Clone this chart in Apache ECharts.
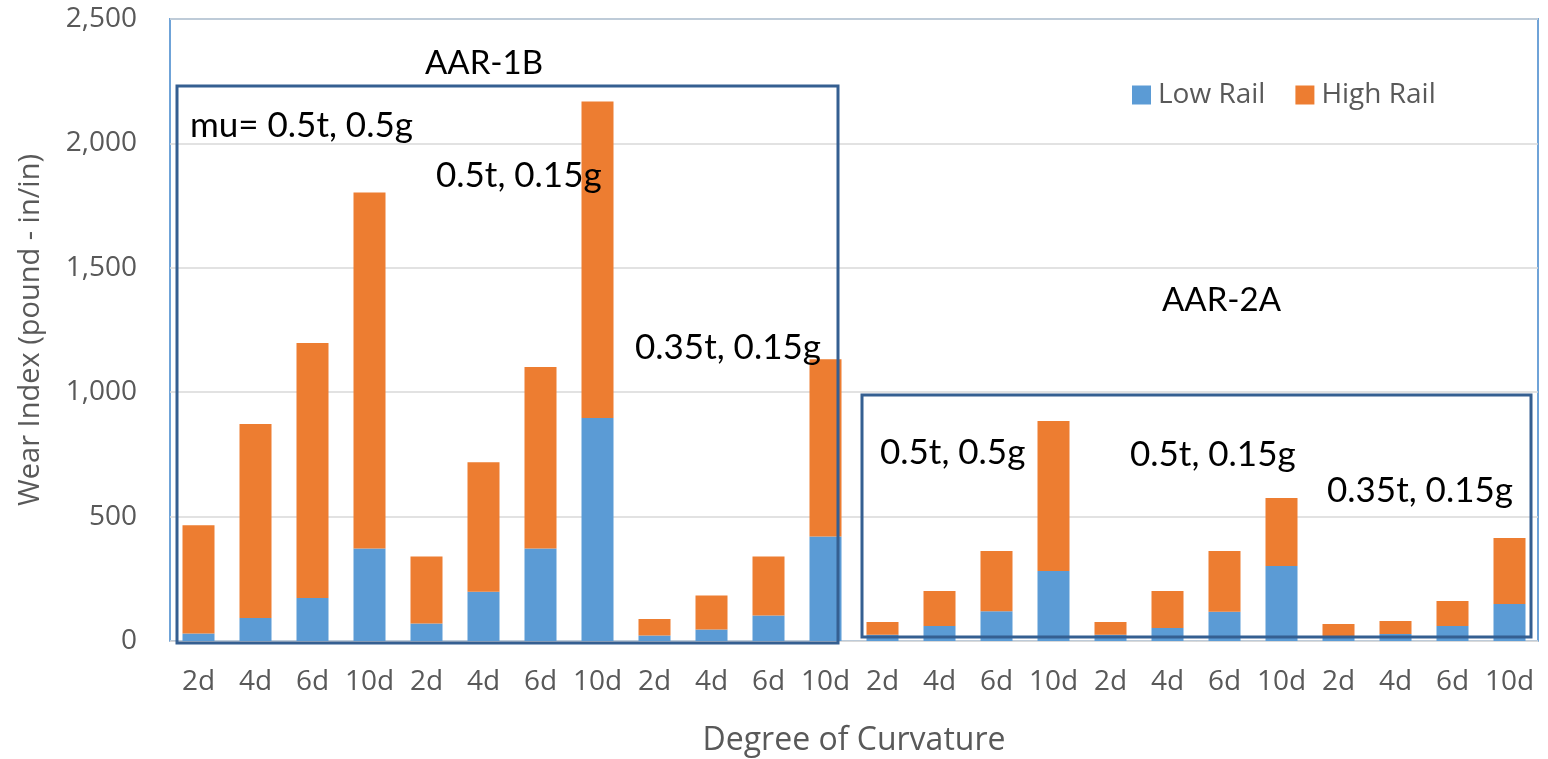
<html>
<head>
    <meta charset="utf-8" />
    <script src="https://cdn.jsdelivr.net/npm/echarts@6/dist/echarts.min.js"></script>
    <style>
        html, body { margin: 0; padding: 0; background: #fff; }
        #chart { width: 1548px; height: 759px; }
    </style>
</head>
<body>
    <div id="chart"></div>
    <script>
        // curvature per bar, 3 friction cases x 2 wheel profiles
        var categories = ['2d', '4d', '6d', '10d', '2d', '4d', '6d', '10d', '2d', '4d', '6d', '10d',
                          '2d', '4d', '6d', '10d', '2d', '4d', '6d', '10d', '2d', '4d', '6d', '10d'];
        var lowRail  = [30, 92, 173, 372, 70, 198, 372, 896, 22, 46, 102, 420,
                        25, 60, 120, 281, 25, 52, 118, 301, 20, 28, 60, 149];
        var highRail = [435, 780, 1025, 1431, 270, 520, 729, 1272, 66, 137, 238, 712,
                        51, 141, 242, 603, 51, 149, 244, 274, 48, 52, 101, 265];
        var yTicks = { min: 0, max: 2500, interval: 500 };

        var noteFont = 'Lato, "Noto Sans", sans-serif';
        var axisFont = '"Open Sans", "Noto Sans", sans-serif';
        var grey = '#595959';

        var chart = echarts.init(document.getElementById('chart'));

        function label(text, x, y, size) {
            return {
                type: 'text', left: x, top: y, z: 100,
                style: {
                    text: text, fill: '#000', font: (size || 35) + 'px ' + noteFont,
                    textVerticalAlign: 'middle'
                }
            };
        }
        function box(x, y, w, h) {
            return {
                type: 'rect', z: 90, silent: true,
                shape: { x: x, y: y, width: w, height: h },
                style: { fill: 'none', stroke: '#355F91', lineWidth: 3 }
            };
        }

        var option = {
            animation: false,
            textStyle: { fontFamily: axisFont },
            grid: {
                left: 170, right: 10, top: 19, bottom: 118,
                outerBoundsMode: 'none', containLabel: false,
                show: true, borderColor: '#6FA3D8', borderWidth: 2
            },
            legend: {
                data: ['Low Rail', 'High Rail'],
                left: 1127, top: 76,
                icon: 'rect', itemWidth: 19, itemHeight: 19, itemGap: 30,
                textStyle: { fontSize: 28, color: grey, fontFamily: axisFont, padding: [0, 0, 0, 2] }
            },
            xAxis: {
                type: 'category',
                data: categories,
                name: 'Degree of Curvature',
                nameLocation: 'middle',
                nameGap: 84,
                nameTextStyle: { fontSize: 32, color: grey },
                axisTick: { show: false },
                axisLine: { lineStyle: { color: '#D9D9D9' } },
                axisLabel: { fontSize: 28, color: grey, margin: 27, interval: 0 }
            },
            yAxis: {
                type: 'value',
                min: yTicks.min, max: yTicks.max, interval: yTicks.interval,
                name: 'Wear Index (pound - in/in)',
                nameLocation: 'middle',
                nameRotate: 90,
                nameGap: 125,
                nameTextStyle: { fontSize: 29, color: grey },
                axisLine: { show: false },
                axisTick: { show: false },
                axisLabel: {
                    fontSize: 28, color: grey, margin: 33,
                    formatter: function (v) { return v.toLocaleString('en-US'); }
                },
                splitLine: { lineStyle: { color: '#D9D9D9', width: 1.5 } }
            },
            series: [
                {
                    name: 'Low Rail', type: 'bar', stack: 'wear',
                    barWidth: 32, data: lowRail,
                    itemStyle: { color: '#5B9BD5' }
                },
                {
                    name: 'High Rail', type: 'bar', stack: 'wear',
                    barWidth: 32, data: highRail,
                    itemStyle: { color: '#ED7D31' }
                }
            ],
            graphic: [
                box(177, 86, 661, 557),
                box(862, 395, 669, 242),
                label('AAR-1B', 425, 47, 33),
                label('mu= 0.5t, 0.5g', 190, 108),
                label('0.5t, 0.15g', 436, 158),
                label('0.35t, 0.15g', 635, 330),
                label('AAR-2A', 1162, 284, 33),
                label('0.5t, 0.5g', 880, 435),
                label('0.5t, 0.15g', 1130, 437),
                label('0.35t, 0.15g', 1327, 473)
            ]
        };

        chart.setOption(option);
    </script>
</body>
</html>
